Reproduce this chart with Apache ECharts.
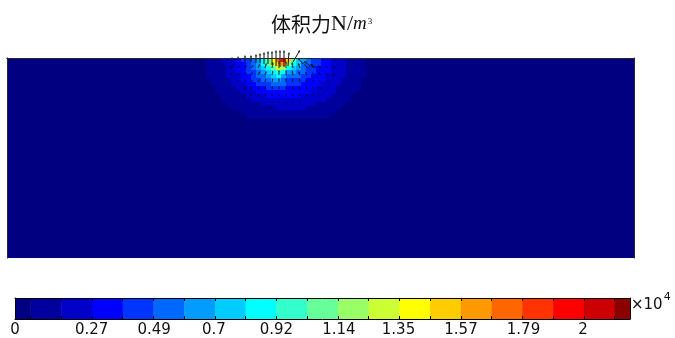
<!DOCTYPE html>
<html>
<head>
<meta charset="utf-8">
<script src="https://cdn.jsdelivr.net/npm/echarts@6.0.0/dist/echarts.min.js"></script>
<style>
  html, body { margin: 0; padding: 0; background: #fff; }
  #chart { width: 675px; height: 338px; }
</style>
</head>
<body>
<div id="chart"></div>
<script>
// colour table of the legend bar, lowest level first
const levelColors = [
  "#000080", "#00009c", "#0000c8", "#0000ff", "#0035ff", "#0068ff", "#009cff",
  "#00ccff", "#00ffff", "#33ffcc", "#66ff99", "#99ff66", "#ccff33", "#ffff00",
  "#ffcc00", "#ff9900", "#ff6600", "#ff3300", "#ff0000", "#cc0000", "#8b0000",
];
const colorbarMax = 2.165; // x10^4 N/m^3
const colorbarTicks = [0, 0.27, 0.49, 0.7, 0.92, 1.14, 1.35, 1.57, 1.79, 2];

// domain (m): width x depth, field only non-zero under the load
const domainWidth = 6.27;
const domainDepth = 2.0;
const fieldX0 = 1.99;
const fieldDx = 0.05;
const fieldDy = 0.04;

// body force, x10^4 N/m^3, rows from the surface downwards
const fieldValues = [
  [0.08,0.11,0.14,0.17,0.21,0.25,0.31,0.38,0.47,0.57,0.70,0.88,1.11,1.40,1.73,1.95,1.54,1.04,0.78,0.62,0.51,0.44,0.38,0.34,0.30,0.26,0.22,0.19,0.16,0.13,0.10,0.07,0.05],
  [0.07,0.10,0.13,0.16,0.20,0.25,0.31,0.37,0.46,0.55,0.68,0.84,1.05,1.29,1.52,1.60,1.18,0.92,0.72,0.59,0.49,0.43,0.38,0.34,0.30,0.26,0.22,0.19,0.16,0.13,0.10,0.07,0.05],
  [0.07,0.10,0.13,0.16,0.20,0.24,0.29,0.36,0.43,0.52,0.63,0.77,0.92,1.10,1.26,1.15,0.87,0.75,0.65,0.55,0.47,0.41,0.37,0.33,0.29,0.25,0.21,0.18,0.16,0.13,0.10,0.07,0.04],
  [0.07,0.09,0.12,0.15,0.19,0.23,0.28,0.34,0.40,0.48,0.57,0.68,0.80,0.91,1.01,0.85,0.69,0.63,0.56,0.49,0.43,0.39,0.35,0.32,0.28,0.24,0.21,0.18,0.15,0.12,0.09,0.06,0.04],
  [0.06,0.09,0.12,0.14,0.17,0.21,0.26,0.31,0.37,0.44,0.51,0.59,0.68,0.76,0.82,0.70,0.56,0.53,0.49,0.44,0.40,0.37,0.33,0.30,0.26,0.23,0.20,0.17,0.14,0.11,0.08,0.06,0.03],
  [0.05,0.08,0.11,0.13,0.16,0.19,0.23,0.28,0.33,0.39,0.45,0.51,0.57,0.62,0.66,0.58,0.47,0.46,0.43,0.40,0.37,0.34,0.31,0.28,0.25,0.21,0.19,0.16,0.13,0.10,0.08,0.05,0.03],
  [0.04,0.07,0.10,0.12,0.15,0.17,0.21,0.25,0.29,0.34,0.39,0.44,0.48,0.52,0.55,0.49,0.41,0.40,0.39,0.37,0.34,0.32,0.29,0.26,0.23,0.20,0.17,0.15,0.12,0.09,0.07,0.04,0.02],
  [0.04,0.05,0.08,0.11,0.13,0.16,0.19,0.22,0.25,0.29,0.33,0.37,0.40,0.43,0.45,0.42,0.37,0.36,0.35,0.33,0.31,0.29,0.26,0.23,0.21,0.18,0.16,0.13,0.11,0.08,0.06,0.03,0.01],
  [0.03,0.04,0.07,0.09,0.12,0.14,0.16,0.19,0.22,0.25,0.28,0.31,0.34,0.36,0.37,0.36,0.33,0.32,0.31,0.30,0.28,0.26,0.23,0.21,0.19,0.17,0.14,0.12,0.09,0.07,0.05,0.02,0.00],
  [0.02,0.03,0.05,0.08,0.10,0.12,0.14,0.16,0.19,0.21,0.24,0.26,0.28,0.30,0.31,0.30,0.29,0.29,0.28,0.26,0.25,0.23,0.21,0.19,0.17,0.15,0.12,0.10,0.08,0.05,0.03,0.01,0.00],
  [0.01,0.02,0.04,0.06,0.08,0.10,0.12,0.14,0.16,0.18,0.20,0.22,0.23,0.25,0.25,0.26,0.25,0.25,0.24,0.23,0.21,0.20,0.18,0.17,0.15,0.13,0.10,0.08,0.06,0.04,0.02,0.00,0.00],
  [0.00,0.01,0.03,0.04,0.06,0.08,0.10,0.12,0.14,0.15,0.16,0.18,0.19,0.20,0.21,0.21,0.22,0.21,0.21,0.20,0.19,0.17,0.16,0.14,0.12,0.11,0.08,0.06,0.05,0.03,0.01,0.00,0.00],
  [0.00,0.00,0.02,0.03,0.04,0.06,0.08,0.10,0.11,0.13,0.14,0.15,0.16,0.16,0.17,0.18,0.19,0.19,0.18,0.17,0.16,0.15,0.13,0.12,0.10,0.08,0.06,0.05,0.03,0.01,0.00,0.00,0.00],
  [0.00,0.00,0.00,0.02,0.03,0.04,0.05,0.07,0.09,0.10,0.11,0.12,0.13,0.14,0.14,0.15,0.16,0.16,0.15,0.14,0.13,0.12,0.11,0.09,0.08,0.06,0.05,0.03,0.01,0.00,0.00,0.00,0.00],
  [0.00,0.00,0.00,0.00,0.01,0.02,0.04,0.05,0.06,0.07,0.09,0.09,0.10,0.11,0.11,0.12,0.13,0.13,0.12,0.12,0.11,0.10,0.08,0.07,0.06,0.04,0.03,0.01,0.00,0.00,0.00,0.00,0.00],
];

// force arrows at the load: [x, depth, dx, ddepth] in m (negative ddepth points up)
const loadArrows = [
  [2.25, 0.02, 0, -0.03], [2.31, 0.02, 0, -0.04], [2.38, 0.04, 0, -0.07],
  [2.44, 0.04, 0, -0.07], [2.49, 0.05, 0, -0.09], [2.53, 0.05, 0, -0.10],
  [2.57, 0.06, 0, -0.12], [2.61, 0.06, 0, -0.13], [2.65, 0.07, 0, -0.14],
  [2.69, 0.08, 0, -0.16], [2.73, 0.09, 0, -0.17], [2.77, 0.09, 0, -0.17],
  [2.81, 0.08, 0.01, -0.14], [2.86, 0.04, 0.07, -0.12],
  [2.96, 0.06, -0.05, -0.06], [3.03, 0.08, -0.06, -0.05], [3.09, 0.10, -0.06, -0.04],
];

// small arrows on the mesh lattice inside the loaded zone
const meshArrows = [
  [2.23,0.10,0.03,-0.02],[2.30,0.10,0.03,-0.02],[2.37,0.10,0.03,-0.025],[2.44,0.10,0.025,-0.03],
  [2.51,0.10,0.02,-0.04],[2.58,0.10,0.015,-0.05],[2.65,0.10,0.01,-0.06],[2.72,0.10,0,-0.07],
  [2.79,0.10,0,-0.07],[2.86,0.10,-0.01,-0.06],[2.93,0.10,-0.02,-0.05],[3.00,0.10,-0.025,-0.04],
  [3.07,0.10,-0.03,-0.03],[3.14,0.10,-0.03,-0.025],[3.21,0.10,-0.03,-0.02],[3.28,0.10,-0.025,-0.015],
  [2.23,0.17,0.025,-0.02],[2.30,0.17,0.025,-0.02],[2.37,0.17,0.025,-0.025],[2.44,0.17,0.02,-0.03],
  [2.51,0.17,0.02,-0.035],[2.58,0.17,0.015,-0.04],[2.65,0.17,0.01,-0.045],[2.72,0.17,0,-0.05],
  [2.79,0.17,0,-0.05],[2.86,0.17,-0.01,-0.045],[2.93,0.17,-0.015,-0.04],[3.00,0.17,-0.02,-0.035],
  [3.07,0.17,-0.02,-0.03],[3.14,0.17,-0.025,-0.025],[3.21,0.17,-0.025,-0.02],[3.28,0.17,-0.02,-0.015],
  [2.30,0.24,0.02,-0.02],[2.37,0.24,0.02,-0.02],[2.44,0.24,0.02,-0.025],[2.51,0.24,0.015,-0.03],
  [2.58,0.24,0.01,-0.035],[2.65,0.24,0.01,-0.035],[2.72,0.24,0,-0.04],[2.79,0.24,0,-0.04],
  [2.86,0.24,-0.01,-0.035],[2.93,0.24,-0.01,-0.035],[3.00,0.24,-0.015,-0.03],[3.07,0.24,-0.02,-0.025],
  [3.14,0.24,-0.02,-0.02],[3.21,0.24,-0.02,-0.02],
  [2.37,0.31,0.015,-0.02],[2.44,0.31,0.015,-0.02],[2.51,0.31,0.01,-0.025],[2.58,0.31,0.01,-0.03],
  [2.65,0.31,0.005,-0.03],[2.72,0.31,0,-0.03],[2.79,0.31,0,-0.03],[2.86,0.31,-0.005,-0.03],
  [2.93,0.31,-0.01,-0.03],[3.00,0.31,-0.01,-0.025],[3.07,0.31,-0.015,-0.02],[3.14,0.31,-0.015,-0.02],
  [2.44,0.38,0.01,-0.02],[2.51,0.38,0.01,-0.02],[2.58,0.38,0.005,-0.025],[2.65,0.38,0.005,-0.025],
  [2.72,0.38,0,-0.025],[2.79,0.38,0,-0.025],[2.86,0.38,-0.005,-0.025],[2.93,0.38,-0.005,-0.025],
  [3.00,0.38,-0.01,-0.02],[3.07,0.38,-0.01,-0.02],
  [2.58,0.45,0.005,-0.02],[2.65,0.45,0,-0.02],[2.72,0.45,0,-0.02],[2.79,0.45,0,-0.02],
  [2.86,0.45,0,-0.02],[2.93,0.45,-0.005,-0.02],
];

const levelStep = colorbarMax / (levelColors.length - 1);
const pieces = levelColors.map((color, k) => {
  const piece = { color };
  if (k > 0) piece.gte = (k - 0.5) * levelStep;
  if (k < levelColors.length - 1) piece.lt = (k + 0.5) * levelStep;
  return piece;
});
const blockEdges = levelColors.slice(1).map((_, k) => (k + 0.5) * levelStep);
const colorbarBlocks = levelColors.map((_, k) => [
  Math.max(0, (k - 0.5) * levelStep),
  Math.min(colorbarMax, (k + 0.5) * levelStep),
  k,
]);

const fieldData = [];
fieldValues.forEach((row, r) => {
  row.forEach((value, c) => {
    fieldData.push([fieldX0 + (c + 0.5) * fieldDx, (r + 0.5) * fieldDy, value]);
  });
});

function renderArrow(api, color, opacity) {
  const a = api.coord([api.value(0), api.value(1)]);
  const b = api.coord([api.value(0) + api.value(2), api.value(1) + api.value(3)]);
  const len = Math.hypot(b[0] - a[0], b[1] - a[1]);
  const ang = Math.atan2(b[1] - a[1], b[0] - a[0]);
  const h = Math.min(2.5, len * 0.45);
  const w = h * 0.5;
  const bx = b[0] - h * Math.cos(ang);
  const by = b[1] - h * Math.sin(ang);
  return {
    type: "group",
    children: [
      { type: "line", shape: { x1: a[0], y1: a[1], x2: bx, y2: by }, style: { stroke: color, lineWidth: 1, opacity } },
      {
        type: "polygon",
        shape: {
          points: [
            [b[0], b[1]],
            [bx - w * Math.sin(ang), by + w * Math.cos(ang)],
            [bx + w * Math.sin(ang), by - w * Math.cos(ang)],
          ],
        },
        style: { fill: color, opacity },
      },
    ],
  };
}

const frameLine = { show: true, lineStyle: { color: "#262626", width: 1 } };
const hidden = { axisTick: { show: false }, axisLabel: { show: false }, splitLine: { show: false } };

const chart = echarts.init(document.getElementById("chart"));
chart.setOption({
  animation: false,
  title: {
    text: "{cjk|体积力}{n|N/}{m|m}{sup|3}",
    left: 271,
    top: 11,
    padding: 0,
    textStyle: {
      fontWeight: "normal",
      rich: {
        cjk: { fontFamily: "Noto Sans CJK SC", fontWeight: "normal", fontSize: 20, color: "#111", lineHeight: 26 },
        n: { fontFamily: "Liberation Serif", fontWeight: "normal", fontSize: 22, color: "#111", lineHeight: 26 },
        m: { fontFamily: "Liberation Serif", fontWeight: "normal", fontStyle: "italic", fontSize: 19, color: "#111", lineHeight: 26 },
        sup: { fontFamily: "Liberation Serif", fontWeight: "normal", fontSize: 9, color: "#111", lineHeight: 26, verticalAlign: "top", padding: [6, 0, 0, 1] },
      },
    },
  },
  graphic: [
    {
      type: "text",
      left: 631,
      top: 291,
      style: {
        text: "{a|×10}{s|4}",
        rich: {
          a: { fontFamily: "DejaVu Sans", fontSize: 15, fill: "#111", lineHeight: 22, verticalAlign: "bottom" },
          s: { fontFamily: "DejaVu Sans", fontSize: 11, fill: "#111", lineHeight: 22, verticalAlign: "top", padding: [1, 0, 0, 1] },
        },
      },
    },
  ],
  grid: [
    { left: 7, right: 41, top: 58, height: 200, show: true, backgroundColor: levelColors[0], borderWidth: 0 },
    { left: 15, right: 45, top: 298, height: 21, show: false },
  ],
  visualMap: { type: "piecewise", show: false, seriesIndex: 0, dimension: 2, pieces },
  xAxis: [
    { type: "value", gridIndex: 0, min: 0, max: domainWidth, position: "bottom", axisLine: frameLine, z: 5, ...hidden },
    { type: "value", gridIndex: 0, min: 0, max: domainWidth, position: "top", axisLine: frameLine, z: 5, ...hidden },
    {
      type: "value", gridIndex: 1, min: 0, max: colorbarMax, position: "bottom", z: 5,
      axisLine: { show: true, onZero: false, lineStyle: { color: "#000", width: 1 } },
      axisTick: { show: true, inside: true, length: 3, customValues: blockEdges, lineStyle: { color: "#000" } },
      axisLabel: { show: true, customValues: colorbarTicks, margin: 4, fontFamily: "DejaVu Sans", fontSize: 15, color: "#111" },
      splitLine: { show: false },
    },
    {
      type: "value", gridIndex: 1, min: 0, max: colorbarMax, position: "top", z: 5,
      axisLine: { show: true, onZero: false, lineStyle: { color: "#000", width: 1 } },
      axisTick: { show: true, inside: true, length: 3, customValues: blockEdges, lineStyle: { color: "#000" } },
      axisLabel: { show: false },
      splitLine: { show: false },
    },
  ],
  yAxis: [
    { type: "value", gridIndex: 0, min: 0, max: domainDepth, inverse: true, position: "left", axisLine: { ...frameLine, onZero: false }, z: 5, ...hidden },
    { type: "value", gridIndex: 0, min: 0, max: domainDepth, inverse: true, position: "right", axisLine: { ...frameLine, onZero: false }, z: 5, ...hidden },
    { type: "value", gridIndex: 1, min: 0, max: 1, position: "left", axisLine: { show: true, onZero: false, lineStyle: { color: "#000" } }, z: 5, ...hidden },
    { type: "value", gridIndex: 1, min: 0, max: 1, position: "right", axisLine: { show: true, onZero: false, lineStyle: { color: "#000" } }, z: 5, ...hidden },
  ],
  series: [
    {
      type: "custom",
      name: "field",
      xAxisIndex: 0,
      yAxisIndex: 0,
      encode: { x: 0, y: 1 },
      silent: true,
      data: fieldData,
      renderItem: (params, api) => {
        const p0 = api.coord([api.value(0) - fieldDx / 2, api.value(1) - fieldDy / 2]);
        const p1 = api.coord([api.value(0) + fieldDx / 2, api.value(1) + fieldDy / 2]);
        return {
          type: "rect",
          shape: {
            x: Math.min(p0[0], p1[0]),
            y: Math.min(p0[1], p1[1]),
            width: Math.abs(p1[0] - p0[0]) + 0.4,
            height: Math.abs(p1[1] - p0[1]) + 0.4,
          },
          style: { fill: api.visual("color") },
        };
      },
    },
    {
      type: "custom",
      name: "mesh arrows",
      xAxisIndex: 0,
      yAxisIndex: 0,
      encode: { x: 0, y: 1 },
      silent: true,
      z: 3,
      data: meshArrows,
      renderItem: (params, api) => renderArrow(api, "#000", 0.8),
    },
    {
      type: "custom",
      name: "load arrows",
      xAxisIndex: 0,
      yAxisIndex: 0,
      encode: { x: 0, y: 1 },
      silent: true,
      clip: false,
      z: 4,
      data: loadArrows,
      renderItem: (params, api) => renderArrow(api, "#111", 1),
    },
    {
      type: "custom",
      name: "colorbar",
      xAxisIndex: 2,
      yAxisIndex: 2,
      silent: true,
      data: colorbarBlocks,
      renderItem: (params, api) => {
        const p0 = api.coord([api.value(0), 0]);
        const p1 = api.coord([api.value(1), 1]);
        return {
          type: "rect",
          shape: { x: p0[0], y: p1[1], width: p1[0] - p0[0] + 0.5, height: p0[1] - p1[1] },
          style: { fill: levelColors[api.value(2)] },
        };
      },
    },
  ],
});
</script>
</body>
</html>
